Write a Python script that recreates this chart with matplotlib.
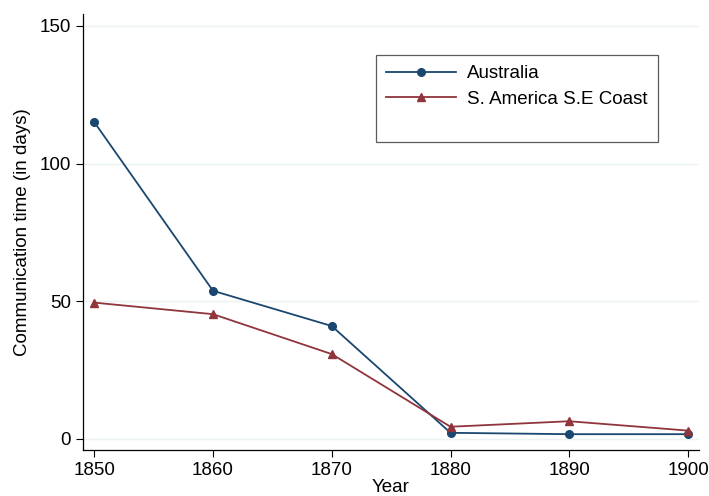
import matplotlib
matplotlib.use("Agg")
import matplotlib.pyplot as plt
from matplotlib.lines import Line2D

plt.rcParams["font.family"] = ["Liberation Sans", "DejaVu Sans"]

# data
years = [1850, 1860, 1870, 1880, 1890, 1900]
australia = [115.1, 53.8, 41.0, 2.2, 1.7, 1.7]
sa_coast = [49.5, 45.3, 30.8, 4.4, 6.4, 3.0]
series_names = ["Australia", "S. America S.E Coast"]

navy = "#1a476f"
maroon = "#90353b"
fs = 13.5

fig = plt.figure(figsize=(7.09, 4.96), dpi=100)
ax = fig.add_axes([0.117, 0.093, 0.869, 0.879])

ax.plot(years, australia, color=navy, lw=1.3, marker="o", ms=5.5, label=series_names[0])
ax.plot(years, sa_coast, color=maroon, lw=1.3, marker="^", ms=6, label=series_names[1])

ax.set_xlim(1849.05, 1900.93)
ax.set_ylim(-4, 154.4)
ax.set_xticks(years)
ax.set_yticks([0, 50, 100, 150])
ax.tick_params(labelsize=fs, length=5, width=0.8, color="black")
ax.yaxis.grid(True, color="#eaf2f3", lw=1)
ax.set_axisbelow(True)

for side in ["top", "right"]:
    ax.spines[side].set_visible(False)
for side in ["left", "bottom"]:
    ax.spines[side].set_linewidth(0.9)

ax.set_ylabel("Communication time (in days)", fontsize=fs, labelpad=6)
ax.set_xlabel("Year", fontsize=fs, labelpad=0)

# legend with the empty third row stata leaves
handles, labels = ax.get_legend_handles_labels()
handles.append(Line2D([], [], color="none"))
labels.append(" ")
leg = ax.legend(handles, labels, loc="upper left", bbox_to_anchor=(0.4756, 0.906),
                fontsize=fs, frameon=True, fancybox=False, edgecolor="#333333",
                handlelength=3.7, borderpad=0.55, labelspacing=0.45, borderaxespad=0,
                handletextpad=0.6)
leg.get_texts()[2].set_fontsize(5)
leg.get_frame().set_linewidth(0.9)

fig.savefig("out.png", dpi=100)
